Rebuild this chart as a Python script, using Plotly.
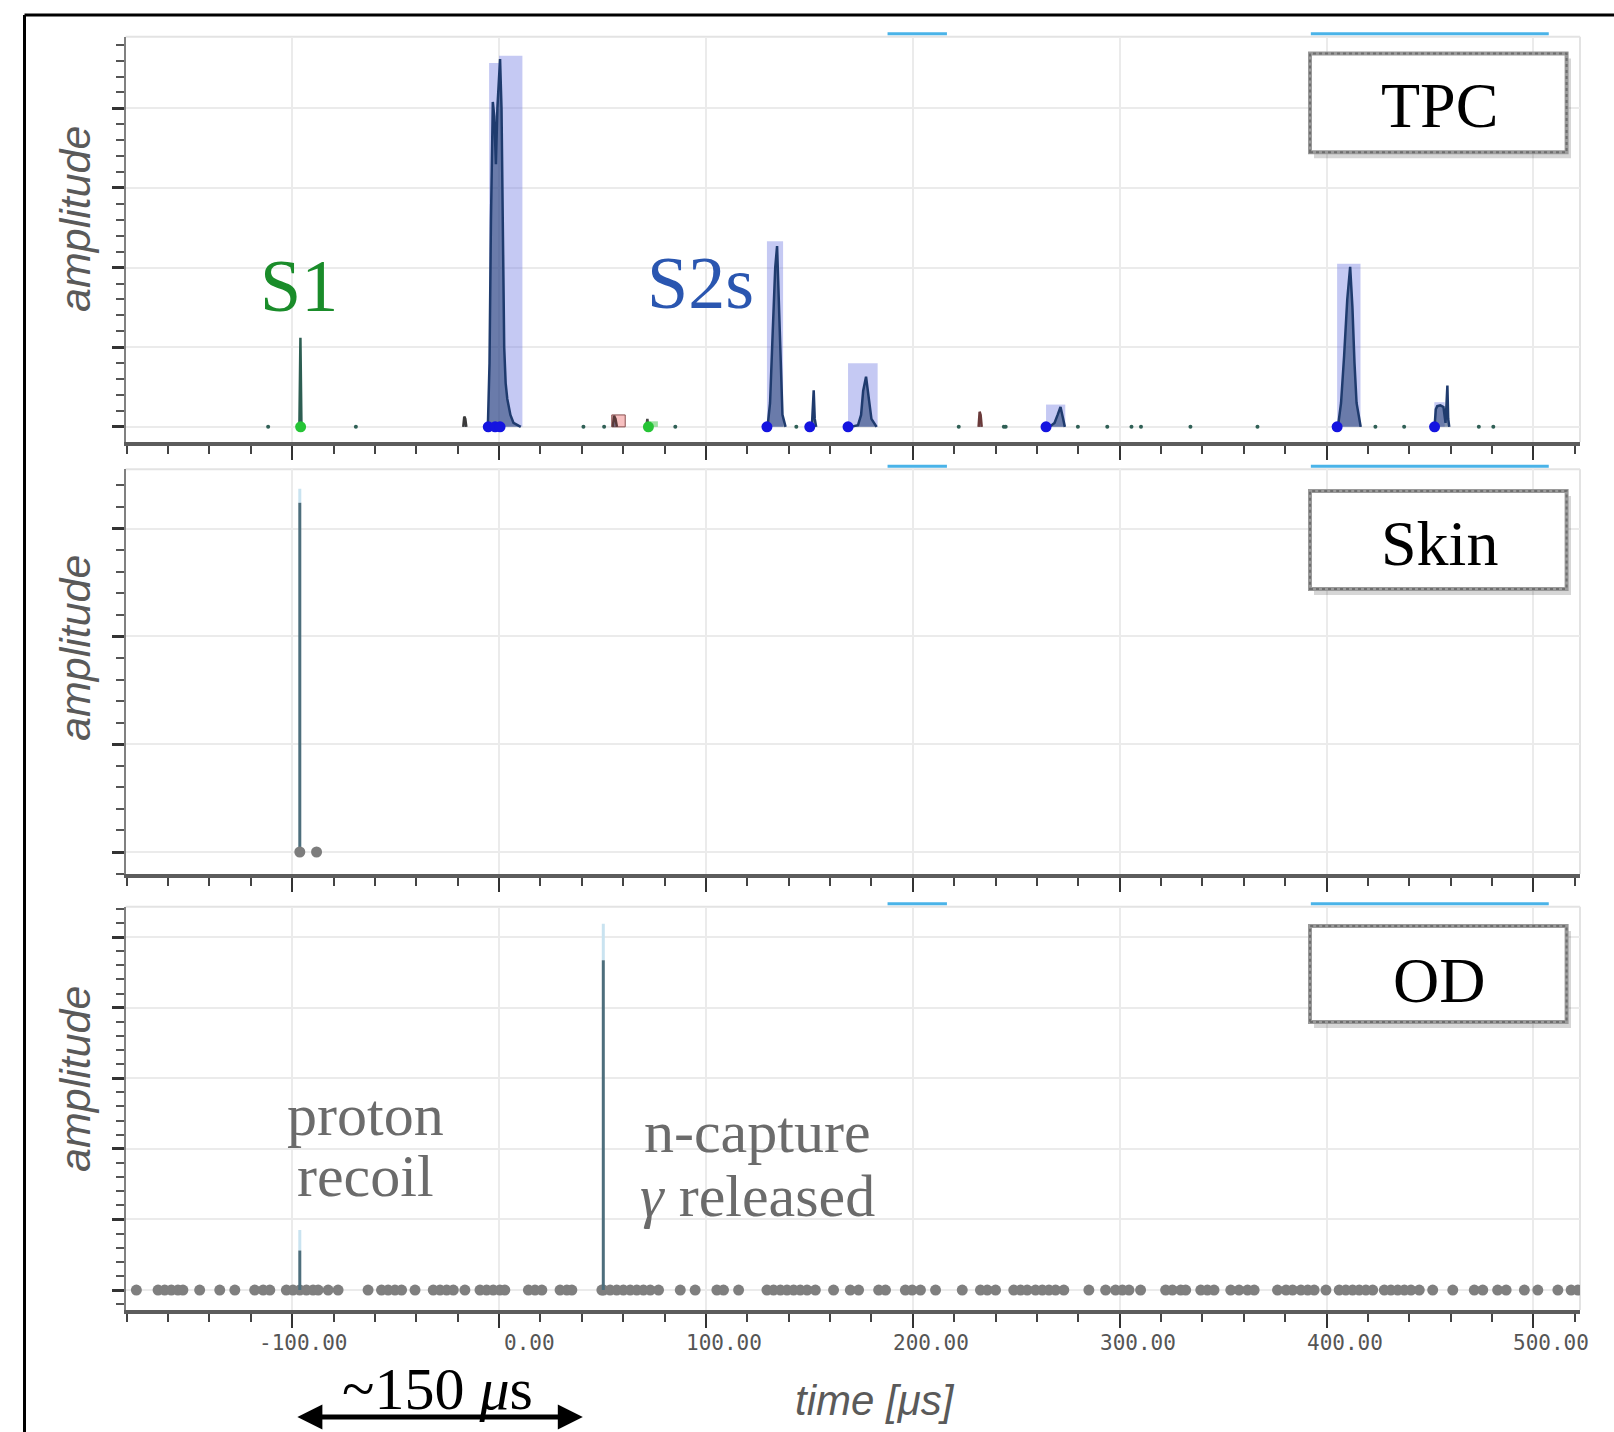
import plotly.graph_objects as go

W, H = 1614, 1432

# ---------------- data ----------------
x_range = [-180.5, 522.5]
x_tick_vals = [-100, 0, 100, 200, 300, 400, 500]
x_tick_text = ["-100.00", "0.00", "100.00", "200.00", "300.00", "400.00", "500.00"]

# TPC waveform pulses (time in us, amplitude in grid units)
s1_t = [-96.5, -96.0, -95.5]
s1_a = [0, 1.12, 0]
pre_t = [-17.3, -16.8, -16.3, -15.8]
pre_a = [0, 0.13, 0.10, 0]
s2a_t = [-5.4, -4.6, -3.9, -3.0, -2.3, -1.5, -0.8, 0.0, 0.5, 1.2, 1.8, 2.5, 3.2, 4.0, 5.5, 7.0, 10.5]
s2a_a = [0, 0.8, 2.6, 4.08, 3.9, 3.3, 4.0, 4.5, 4.62, 4.0, 2.5, 1.0, 0.55, 0.35, 0.15, 0.05, 0]
pk56_t = [55.0, 55.6, 56.3, 57.0]
pk56_a = [0, 0.14, 0.10, 0]
pk72_t = [71.2, 71.7, 72.2]
pk72_a = [0, 0.10, 0]
s2b_t = [129.8, 131.0, 132.3, 133.5, 134.4, 135.2, 136.0, 137.0, 138.5]
s2b_a = [0, 0.3, 1.2, 2.0, 2.27, 1.6, 0.7, 0.15, 0]
s2c_t = [151.2, 151.7, 152.1, 152.6, 153.3]
s2c_a = [0, 0.42, 0.46, 0.10, 0]
s2d_t = [170.0, 173.5, 175.0, 176.0, 177.4, 178.3, 179.0, 180.0, 182.5]
s2d_a = [0, 0.02, 0.15, 0.45, 0.63, 0.45, 0.25, 0.10, 0]
pk232_t = [231.8, 232.3, 232.8, 233.3]
pk232_a = [0, 0.19, 0.15, 0]
s2e_t = [266.0, 268.5, 270.0, 271.4, 272.5, 273.5]
s2e_a = [0, 0.05, 0.15, 0.25, 0.12, 0]
s2f_t = [405.5, 407.0, 408.5, 410.0, 411.4, 412.5, 413.5, 414.5, 416.5]
s2f_a = [0, 0.3, 0.9, 1.6, 2.01, 1.5, 0.8, 0.3, 0]
s2g_t = [452.2, 452.8, 453.5, 455.0, 456.5, 457.5, 458.0, 458.4, 458.8, 459.3]
s2g_a = [0, 0.22, 0.26, 0.27, 0.25, 0.05, 0.30, 0.52, 0.10, 0]

# TPC pulse windows
tpc_win_start = [-4.8, 0.0, 129.5, 168.7, 264.4, 405.1, 452.1]
tpc_win_end = [0.0, 11.3, 137.3, 183.0, 273.7, 416.4, 457.1]
tpc_win_top = [4.57, 4.66, 2.33, 0.80, 0.28, 2.05, 0.31]
pink_win = [54.5, 61.0, 0.15]
green_win = [72.8, 76.8, 0.07]

# TPC markers
tpc_s2_dots = [-5.2, -1.9, 0.5, 129.5, 150.2, 168.7, 264.4, 405.1, 452.2]
tpc_s1_dots = [-95.9, 72.2]
tpc_small_dots = [-111.6, -69.2, 40.8, 50.8, 85.2, 143.7, 222.2, 244.0, 244.9, 279.8,
                  294.0, 305.7, 310.3, 334.2, 366.6, 423.6, 437.5, 473.6, 480.6]

# Skin
skin_spike_t = [-96.3]
skin_spike_top = [3.24]
skin_spike_light = [3.37]
skin_dots = [-96.3, -88.2]

# OD
od_spike_t = [-96.3, 50.4]
od_spike_top = [0.56, 4.67]
od_spike_light = [0.85, 5.19]
od_dots = [-175.3, -164.8, -161.6, -158.4, -155.2, -152.8, -144.7, -135.0, -127.7, -118.1,
           -114.0, -110.8, -102.8, -99.6, -96.3, -93.1, -89.9, -87.4, -82.6, -77.8,
           -63.3, -56.8, -53.6, -50.3, -47.1, -40.6, -31.8, -28.5, -25.3, -22.1,
           -16.5, -9.2, -6.0, -2.8, 0.4, 2.8, 14.2, 17.4, 20.7, 29.5, 32.8, 35.2,
           49.7, 50.5, 53.7, 56.9, 60.1, 63.4, 66.6, 69.8, 73.1, 77.1, 87.6, 94.8,
           105.3, 108.5, 115.8, 129.5, 132.7, 136.0, 139.2, 142.4, 145.6, 148.9,
           152.9, 161.7, 169.8, 173.8, 183.5, 186.8, 196.4, 199.7, 203.7, 211.0,
           223.9, 232.7, 236.0, 240.0, 248.8, 252.1, 255.3, 259.3, 262.6, 265.8,
           269.0, 273.0, 285.1, 293.2, 298.0, 301.3, 304.5, 310.1, 322.2, 325.5,
           329.5, 331.9, 339.2, 342.4, 345.6, 353.7, 357.7, 361.8, 365.0, 376.3,
           380.4, 383.6, 387.6, 390.9, 394.0, 399.7, 406.1, 409.3, 412.6, 415.8,
           419.0, 422.3, 427.9, 431.1, 434.4, 437.6, 440.8, 444.8, 451.3, 461.0,
           471.4, 475.5, 482.7, 486.8, 495.6, 502.1, 511.8, 518.2, 521.5]

# selection bars above the panels (time ranges)
sel_start = [187.8, 392.4]
sel_end = [216.5, 507.4]

# ---------------- layout helpers ----------------
def fx(px):
    return px / W

def fy(py):
    return 1 - py / H

XD = [fx(125.6), fx(1580)]
panels = [
    dict(top=36.7, bot=442.0, rng=[-0.19, 4.90], name="TPC", box=(53.5, 152.3), lbl=106, amp=219),
    dict(top=469.3, bot=874.0, rng=[-0.204, 3.55], name="Skin", box=(491.0, 589.0), lbl=543.5, amp=648),
    dict(top=906.7, bot=1310.0, rng=[-0.283, 5.43], name="OD", box=(926.0, 1022.0), lbl=980, amp=1079),
]

fig = go.Figure()

NAVY = "#1f3b6e"

def xa(i):
    return "x" if i == 0 else f"x{i+1}"

def ya(i):
    return "y" if i == 0 else f"y{i+1}"

# ---- TPC traces ----
for s, e, t in zip(tpc_win_start, tpc_win_end, tpc_win_top):
    fig.add_trace(go.Scatter(x=[s, e, e, s, s], y=[0, 0, t, t, 0], mode="lines",
                             fill="toself", fillcolor="rgba(110,120,225,0.40)",
                             line=dict(width=0), hoverinfo="skip", xaxis="x", yaxis="y"))
fig.add_trace(go.Scatter(x=[pink_win[0], pink_win[1], pink_win[1], pink_win[0], pink_win[0]],
                         y=[0, 0, pink_win[2], pink_win[2], 0], mode="lines", fill="toself",
                         fillcolor="rgba(240,140,140,0.55)", line=dict(width=1, color="#8a5050"),
                         xaxis="x", yaxis="y"))
fig.add_trace(go.Scatter(x=[green_win[0], green_win[1], green_win[1], green_win[0], green_win[0]],
                         y=[0, 0, green_win[2], green_win[2], 0], mode="lines", fill="toself",
                         fillcolor="rgba(80,200,90,0.55)", line=dict(width=0),
                         xaxis="x", yaxis="y"))

pulses = [(s1_t, s1_a, "#2d5e52"), (pre_t, pre_a, "#3a3a3a"), (s2a_t, s2a_a, NAVY),
          (pk56_t, pk56_a, "#5a3a3a"), (pk72_t, pk72_a, "#4a4a4a"),
          (s2b_t, s2b_a, NAVY), (s2c_t, s2c_a, NAVY), (s2d_t, s2d_a, NAVY),
          (pk232_t, pk232_a, "#6a3a3a"), (s2e_t, s2e_a, NAVY), (s2f_t, s2f_a, NAVY),
          (s2g_t, s2g_a, NAVY)]
for t, a, c in pulses:
    fig.add_trace(go.Scatter(x=t, y=a, mode="lines", line=dict(color=c, width=2.5),
                             fill="tozeroy", fillcolor="rgba(31,59,110,0.55)",
                             xaxis="x", yaxis="y"))

fig.add_trace(go.Scatter(x=tpc_small_dots, y=[0] * len(tpc_small_dots), mode="markers",
                         marker=dict(color="#2f5f55", size=4), xaxis="x", yaxis="y"))
fig.add_trace(go.Scatter(x=tpc_s2_dots, y=[0] * len(tpc_s2_dots), mode="markers",
                         marker=dict(color="#1414e0", size=11), xaxis="x", yaxis="y"))
fig.add_trace(go.Scatter(x=tpc_s1_dots, y=[0] * len(tpc_s1_dots), mode="markers",
                         marker=dict(color="#26c436", size=11), xaxis="x", yaxis="y"))

# ---- spikes for Skin and OD ----
def add_spikes(ts, tops, lights, xr, yr):
    lx, ly, dx, dy = [], [], [], []
    for t, tp, lt in zip(ts, tops, lights):
        lx += [t, t, None]
        ly += [tp, lt, None]
        dx += [t, t, None]
        dy += [0, tp, None]
    fig.add_trace(go.Scatter(x=lx, y=ly, mode="lines", line=dict(color="#c9e3f0", width=3),
                             xaxis=xr, yaxis=yr))
    fig.add_trace(go.Scatter(x=dx, y=dy, mode="lines", line=dict(color="#4d6e7c", width=3),
                             xaxis=xr, yaxis=yr))

add_spikes(skin_spike_t, skin_spike_top, skin_spike_light, "x2", "y2")
fig.add_trace(go.Scatter(x=skin_dots, y=[0] * len(skin_dots), mode="markers",
                         marker=dict(color="#7d7d7d", size=11), xaxis="x2", yaxis="y2"))

fig.add_trace(go.Scatter(x=od_dots, y=[0] * len(od_dots), mode="markers",
                         marker=dict(color="#7f7f7f", size=11), xaxis="x3", yaxis="y3"))
add_spikes(od_spike_t, od_spike_top, od_spike_light, "x3", "y3")

# ---------------- axes ----------------
layout = dict(
    width=W, height=H, margin=dict(l=0, r=0, t=0, b=0),
    paper_bgcolor="white", plot_bgcolor="white", showlegend=False,
)
shapes = []
annotations = []

for i, p in enumerate(panels):
    xk = "xaxis" if i == 0 else f"xaxis{i+1}"
    yk = "yaxis" if i == 0 else f"yaxis{i+1}"
    layout[xk] = dict(
        domain=XD, range=x_range, anchor=ya(i), showline=True, linecolor="#5c5c5c",
        linewidth=4, ticks="outside", ticklen=14, tickwidth=2, tickcolor="#333",
        tick0=0, dtick=100, showgrid=True, gridcolor="#ebebeb", gridwidth=2,
        showticklabels=False, zeroline=False, fixedrange=True,
        minor=dict(dtick=20, ticks="outside", ticklen=8, tickwidth=1.5,
                   tickcolor="#444", showgrid=False),
    )
    if i > 0:
        layout[xk]["matches"] = "x"
    layout[yk] = dict(
        domain=[fy(p["bot"]), fy(p["top"])], range=p["rng"], anchor=xa(i),
        showline=True, linecolor="#808080", linewidth=2, ticks="outside", ticklen=12,
        tickwidth=3, tickcolor="#333", tick0=0, dtick=1, showgrid=True,
        gridcolor="#ebebeb", gridwidth=2, showticklabels=False, zeroline=False,
        fixedrange=True,
        minor=dict(dtick=0.2, ticks="outside", ticklen=8, tickwidth=2,
                   tickcolor="#555", showgrid=False),
    )
    shapes.append(dict(type="line", xref="paper", yref="paper", x0=XD[0], x1=XD[1],
                       y0=fy(p["top"]), y1=fy(p["top"]), line=dict(color="#e3e3e3", width=2),
                       layer="below"))
    shapes.append(dict(type="line", xref="paper", yref="paper", x0=XD[1], x1=XD[1],
                       y0=fy(p["top"]), y1=fy(p["bot"]), line=dict(color="#e3e3e3", width=2),
                       layer="below"))
    for s, e in zip(sel_start, sel_end):
        shapes.append(dict(type="line", xref=xa(i), yref="paper", x0=s, x1=e,
                           y0=fy(p["top"] - 3), y1=fy(p["top"] - 3),
                           line=dict(color="#4ab3e8", width=3)))
    b0, b1 = p["box"]
    shapes.append(dict(type="rect", xref="paper", yref="paper", x0=fx(1314), x1=fx(1571),
                       y0=fy(b1 + 6), y1=fy(b0 + 5), fillcolor="rgba(0,0,0,0.16)",
                       line=dict(width=0)))
    shapes.append(dict(type="rect", xref="paper", yref="paper", x0=fx(1310), x1=fx(1566.6),
                       y0=fy(b1), y1=fy(b0), fillcolor="white",
                       line=dict(color="#9a9a9a", width=4)))
    shapes.append(dict(type="rect", xref="paper", yref="paper", x0=fx(1310), x1=fx(1566.6),
                       y0=fy(b1), y1=fy(b0),
                       line=dict(color="#6e6e6e", width=2, dash="dot")))
    annotations.append(dict(text=p["name"], xref="paper", yref="paper", x=fx(1439),
                            y=fy(p["lbl"]), showarrow=False, xanchor="center", yanchor="middle",
                            font=dict(family="Liberation Serif", size=64, color="black")))
    annotations.append(dict(text="<i>amplitude</i>", xref="paper", yref="paper", x=fx(75),
                            y=fy(p["amp"]), textangle=-90, showarrow=False,
                            xanchor="center", yanchor="middle",
                            font=dict(family="Liberation Sans", size=43, color="#5a5a5a")))

# outer black frame
shapes.append(dict(type="line", xref="paper", yref="paper", x0=fx(24.5), x1=fx(24.5),
                   y0=fy(15), y1=0, line=dict(color="black", width=3)))
shapes.append(dict(type="line", xref="paper", yref="paper", x0=fx(24.5), x1=1,
                   y0=fy(15), y1=fy(15), line=dict(color="black", width=3)))

# x tick labels (right aligned, monospace)
for v, t in zip(x_tick_vals, x_tick_text):
    annotations.append(dict(text=t, xref="x3", yref="paper", x=v, y=fy(1343),
                            xanchor="right", yanchor="middle", xshift=58, showarrow=False,
                            font=dict(family="DejaVu Sans Mono", size=21, color="#555")))

annotations.append(dict(text="<i>time [μs]</i>", xref="paper", yref="paper", x=fx(875),
                        y=fy(1400), showarrow=False, xanchor="center", yanchor="middle",
                        font=dict(family="Liberation Sans", size=42, color="#5a5a5a")))
annotations.append(dict(text="~150 <i>μ</i>s", xref="paper", yref="paper", x=fx(437),
                        y=fy(1389), showarrow=False, xanchor="center", yanchor="middle",
                        font=dict(family="Liberation Serif", size=60, color="black")))
arrow_span = [-98.2, 40.5]
annotations.append(dict(text="", xref="x3", yref="paper", x=arrow_span[1], y=fy(1417),
                        axref="x3", ayref="pixel", ax=arrow_span[0], ay=0,
                        showarrow=True, arrowhead=2, startarrowhead=2, arrowside="end+start",
                        arrowsize=1.0, startarrowsize=1.0, arrowwidth=5, arrowcolor="black"))

annotations.append(dict(text="S1", xref="paper", yref="paper", x=fx(298.5), y=fy(286),
                        xanchor="center", yanchor="middle", showarrow=False,
                        font=dict(family="Liberation Serif", size=74, color="#1a8c2a")))
annotations.append(dict(text="S2s", xref="paper", yref="paper", x=fx(700), y=fy(283),
                        xanchor="center", yanchor="middle", showarrow=False,
                        font=dict(family="Liberation Serif", size=74, color="#2a56b0")))
for txt, xx, yy in [("proton", 365.4, 1114.7), ("recoil", 365.4, 1175.5),
                    ("n-capture", 757.6, 1132), ("<i>γ</i> released", 757.6, 1196)]:
    annotations.append(dict(text=txt, xref="paper", yref="paper", x=fx(xx), y=fy(yy),
                            showarrow=False, xanchor="center", yanchor="middle",
                            font=dict(family="Liberation Serif", size=60, color="#6b6b6b")))

layout["shapes"] = shapes
layout["annotations"] = annotations
fig.update_layout(**layout)

fig.write_html("out.html")
